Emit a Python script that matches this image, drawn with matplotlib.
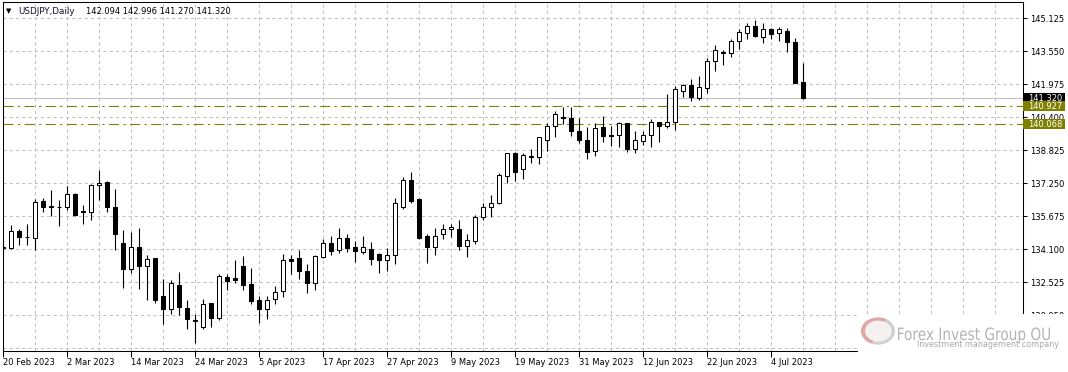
import numpy as np
import pandas as pd
import matplotlib
matplotlib.use("Agg")
import matplotlib.pyplot as plt
from matplotlib.patches import Rectangle, Wedge, Ellipse, PathPatch
from matplotlib.textpath import TextPath
from matplotlib.font_manager import FontProperties
import matplotlib.transforms as mtransforms

# USDJPY daily bars, 20 Feb 2023 .. 10 Jul 2023
opens = [134.19, 134.17, 134.97, 134.69, 134.65, 136.43, 136.18, 136.14, 136.10, 136.76,
         135.91, 135.86, 137.15, 137.31, 136.14, 134.42, 133.18, 134.19, 133.31, 133.71,
         131.86, 131.25, 132.42, 131.32, 130.71, 130.39, 131.56, 130.82, 132.77, 132.72,
         133.29, 132.43, 131.70, 131.25, 131.75, 132.11, 133.63, 133.68, 133.09, 132.50,
         133.74, 134.42, 134.09, 134.66, 134.23, 133.98, 134.14, 133.90, 133.60, 133.83,
         136.10, 137.43, 136.48, 134.73, 134.19, 134.81, 135.05, 135.05, 134.28, 134.52,
         135.62, 136.10, 136.32, 137.62, 138.68, 137.94, 138.53, 138.53, 139.30, 140.01,
         140.44, 140.35, 139.73, 139.30, 138.77, 139.92, 139.58, 139.57, 140.11, 138.87,
         139.25, 139.57, 140.16, 140.01, 140.20, 141.64, 141.92, 141.34, 141.81, 143.07,
         143.52, 143.45, 144.03, 144.41, 144.74, 144.23, 144.60, 144.41, 144.50, 143.98,
         142.094]
highs = [134.46, 135.24, 135.06, 135.33, 136.49, 136.53, 136.92, 136.45, 137.12, 136.80,
         136.21, 137.24, 137.91, 137.35, 136.97, 135.01, 134.93, 135.11, 133.82, 133.71,
         132.69, 132.62, 133.01, 131.67, 131.03, 131.75, 131.56, 132.91, 132.94, 133.58,
         133.77, 133.20, 131.86, 131.89, 132.37, 133.87, 133.82, 134.09, 133.39, 133.82,
         134.60, 134.73, 135.14, 134.81, 134.50, 134.73, 134.44, 133.93, 134.17, 136.54,
         137.56, 137.78, 136.54, 134.85, 135.11, 135.30, 135.33, 135.49, 134.81, 135.73,
         136.32, 136.67, 137.72, 138.71, 138.74, 138.68, 138.87, 139.47, 140.11, 140.70,
         140.91, 140.91, 140.36, 139.93, 140.11, 140.46, 139.98, 140.20, 140.14, 139.74,
         139.74, 140.30, 140.19, 141.51, 141.89, 141.99, 142.21, 142.37, 143.23, 143.85,
         143.61, 144.12, 144.60, 144.89, 145.05, 144.89, 144.65, 144.70, 144.65, 144.17,
         142.996]
lows = [133.90, 134.11, 134.30, 134.30, 134.06, 135.89, 135.68, 135.22, 136.00, 135.70,
        135.33, 135.49, 136.45, 135.89, 134.06, 132.26, 132.97, 132.21, 131.70, 131.54,
        130.55, 131.00, 130.97, 130.32, 129.63, 130.32, 130.39, 130.71, 132.15, 132.50,
        132.15, 131.51, 130.59, 130.78, 131.51, 131.83, 132.91, 132.69, 132.02, 132.18,
        133.71, 133.82, 133.93, 133.98, 133.50, 133.90, 133.34, 132.97, 133.07, 133.42,
        136.03, 136.29, 134.60, 133.45, 133.82, 134.60, 134.69, 134.06, 133.74, 134.36,
        135.49, 135.65, 136.26, 137.27, 137.37, 137.47, 138.23, 138.17, 138.80, 139.47,
        140.08, 139.52, 139.19, 138.42, 138.55, 139.22, 139.03, 138.99, 138.76, 138.71,
        139.09, 138.99, 139.23, 139.87, 139.79, 141.38, 141.19, 141.22, 141.54, 142.63,
        142.91, 143.26, 143.68, 144.12, 144.23, 143.96, 144.15, 144.06, 143.53, 142.02,
        141.270]
closes = [134.17, 134.97, 134.69, 134.71, 136.38, 136.13, 136.13, 136.10, 136.76, 135.73,
          135.86, 137.16, 137.29, 136.13, 134.84, 133.18, 134.19, 133.31, 133.66, 131.70,
          131.25, 132.47, 131.37, 130.78, 130.68, 131.51, 130.82, 132.82, 132.59, 132.64,
          132.40, 131.64, 131.25, 131.70, 132.08, 133.58, 133.56, 133.09, 132.50, 133.77,
          134.42, 134.04, 134.66, 134.17, 134.03, 134.19, 133.64, 133.60, 133.85, 136.29,
          137.43, 136.41, 134.65, 134.22, 134.76, 135.05, 135.19, 134.26, 134.54, 135.63,
          136.10, 136.33, 137.64, 138.68, 137.80, 138.58, 138.56, 139.44, 140.01, 140.57,
          140.38, 139.77, 139.30, 138.76, 139.89, 139.52, 139.52, 140.11, 138.90, 139.34,
          139.58, 140.20, 140.01, 140.20, 141.73, 141.92, 141.38, 141.83, 143.07, 143.60,
          143.45, 144.03, 144.46, 144.74, 144.27, 144.60, 144.39, 144.60, 144.01, 142.05,
          141.320]

days = pd.bdate_range("2023-02-20", "2023-07-10")
label_dates = pd.to_datetime(["2023-02-20", "2023-03-02", "2023-03-14", "2023-03-24",
                              "2023-04-05", "2023-04-17", "2023-04-27", "2023-05-09",
                              "2023-05-19", "2023-05-31", "2023-06-12", "2023-06-22",
                              "2023-07-04"])
price_ticks = [129.375, 130.950, 132.525, 134.100, 135.675, 137.250,
               138.825, 140.400, 141.975, 143.550, 145.125]
levels = [140.927, 140.068]
last_price = 141.320

W, H = 1068, 372
fig = plt.figure(figsize=(W / 100, H / 100), dpi=100)
ax = fig.add_axes([3 / W, 21 / H, 1020 / W, 349 / H])
ax.set_xlim(-0.04, 127.46)
ax.set_ylim(129.248, 145.905)
ax.set_axisbelow(True)

grid_col = "#c0c0c0"
ax.grid(axis="y", color=grid_col, lw=0.75, linestyle=(0, (3, 3)))
for g in range(4, 128, 4):
    ax.axvline(g, color=grid_col, lw=0.75, linestyle=(0, (3, 3)), zorder=0.6)

# candles
bw = 0.46
for i, (o, h, l, c) in enumerate(zip(opens, highs, lows, closes)):
    ax.vlines(i, l, h, color="black", lw=0.8, zorder=3)
    fc = "white" if c >= o else "black"
    ax.add_patch(Rectangle((i - bw / 2, min(o, c)), bw, abs(c - o),
                           fc=fc, ec="black", lw=0.75, zorder=4))

# horizontal levels
ax.axhline(last_price, color=grid_col, lw=0.8, zorder=2)
for lv in levels:
    ax.axhline(lv, color="#808000", lw=0.8, linestyle=(0, (9, 4, 2, 4)), zorder=2)

# axes / ticks
for s in ax.spines.values():
    s.set_color("black")
    s.set_linewidth(0.75)
ax.yaxis.tick_right()
ax.set_yticks(price_ticks)
# lowest level sits under the watermark, so no label for it
ax.set_yticklabels([f"{p:.3f}" if p > 130 else "" for p in price_ticks])
ax.tick_params(axis="y", length=3, width=0.75, pad=2, labelsize=6)
pos = days.get_indexer(label_dates)
ax.set_xticks(pos)
ax.set_xticklabels([f"{d.day} {d:%b %Y}" for d in label_dates], ha="left")
ax.tick_params(axis="x", length=4, width=0.75, pad=1, labelsize=6)

# price labels on the right scale
yt = ax.get_yaxis_transform()
for p, col in [(last_price, "black")] + [(lv, "#808000") for lv in levels]:
    ax.add_patch(Rectangle((1.0, p - 0.235), 42 / 1020, 0.47, transform=yt,
                           fc=col, ec="none", clip_on=False, zorder=5))
    ax.text(1.0 + 5 / 1020, p, f"{p:.3f}", transform=yt, color="white",
            fontsize=6, va="center", ha="left", zorder=6, clip_on=False)

# header
fig.text(6 / W, (H - 11) / H, "\u25bc", fontsize=5, va="center")
fig.text(18 / W, (H - 11) / H, "USDJPY,Daily", fontsize=6.3, va="center", color="#101030")
fig.text(86 / W, (H - 11) / H,
         f"{opens[-1]:.3f} {highs[-1]:.3f} {lows[-1]:.3f} {closes[-1]:.3f}",
         fontsize=6, va="center")

# watermark
px = mtransforms.Affine2D().scale(1 / W, 1 / H) + fig.transFigure
fig.patches.append(Rectangle((858, 0), W - 858, H - 314, transform=px,
                             fc="white", ec="none", zorder=10))
ball = mtransforms.Affine2D().scale(1, 0.8).translate(878, H - 331) + px
fig.patches.append(Ellipse((0, 0), 34, 34, transform=ball, fc="#f5f1f1", ec="none", zorder=11))
fig.patches.append(Wedge((0, 0), 17, 60, 250, width=4, transform=ball,
                         fc="#e0a8a2", ec="none", zorder=12))
fig.patches.append(Wedge((0, 0), 17, 250, 420, width=3.5, transform=ball,
                         fc="#d0d0d0", ec="none", zorder=12))
tp = TextPath((0, 0), "Forex Invest Group OU", size=17, prop=FontProperties(family="DejaVu Sans"))
ext = tp.get_extents()
tr = mtransforms.Affine2D().translate(-ext.x0, 0).scale(152 / ext.width, 1).translate(898, H - 340) + px
fig.patches.append(PathPatch(tp, transform=tr, fc="#b4b4b4", ec="none", zorder=12))
fig.text(917 / W, (H - 347) / H, "Investment management company", fontsize=5.8,
         color="#a8a8a8", va="baseline", zorder=12)

fig.savefig("out.png", dpi=100)
